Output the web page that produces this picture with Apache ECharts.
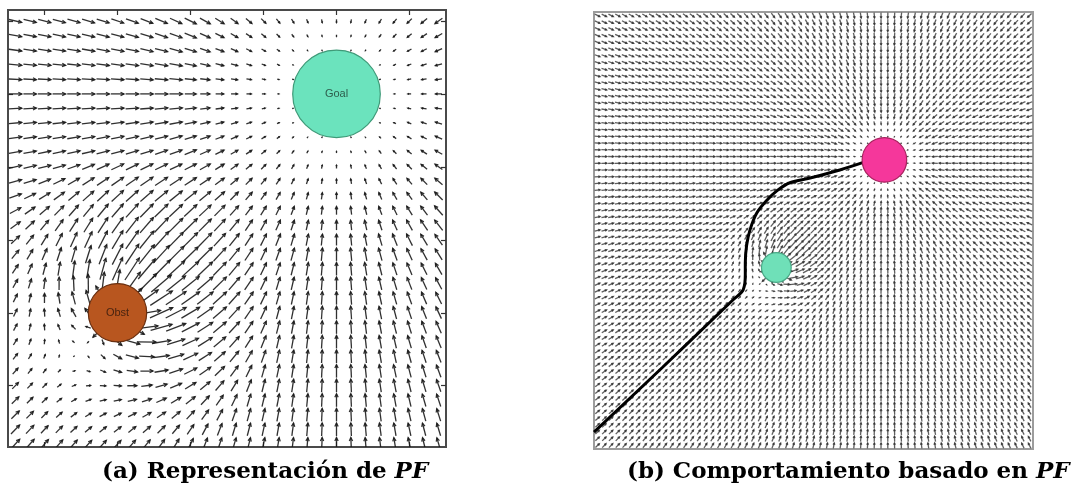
<!DOCTYPE html>
<html><head><meta charset="utf-8">
<script src="https://cdn.jsdelivr.net/npm/echarts@6/dist/echarts.min.js"></script>
<style>html,body{margin:0;padding:0;background:#fff}#c{width:1073px;height:495px}</style>
</head><body><div id="c"></div>
<script>
// ---------- Panel (a): potential field representation ----------
const A_X_RANGE = [-0.5, 5.5];
const A_Y_RANGE = [-0.84, 5.15];
const A_TICKS = [0, 1, 2, 3, 4, 5];
const A_GRID_X = [-0.4, 5.4, 0.2];      // quiver sample grid: start, end, step
const A_GRID_Y = [-0.8, 5.0, 0.2];
const A_GOAL = [4, 4];
const A_GOAL_RADIUS = 0.6;
const A_GOAL_SPREAD = 1.6;
const A_OBST = [1, 1];
const A_OBST_RADIUS = 0.4;
const A_OBST_SPREAD = 1.78;
const A_OBST_GAIN = 1.14;
const A_LABELS = ['Goal', 'Obst'];

// ---------- Panel (b): behaviour based on the potential field ----------
const B_RANGE = [0, 65];
const B_GRID = [0.5, 64.5, 1];
const B_GOAL = [43, 43];
const B_GOAL_RADIUS = 3.3;
const B_GOAL_SPREAD = 4;
const B_OBST = [27, 27];
const B_OBST_RADIUS = 2.2;
const B_OBST_SPREAD = 8;
const B_OBST_GAIN = 0.555;
const B_PATH_X = [0, 10.2, 17.9, 20.6, 22.1, 22.4, 22.4, 22.6, 23.1, 24.1, 25.6, 27.2, 29.0, 32.0, 36.4, 40.1];
const B_PATH_Y = [2.5, 12.2, 19.6, 22.2, 23.7, 25.9, 27.7, 30.3, 32.6, 35.1, 37.0, 38.5, 39.6, 40.3, 41.5, 42.7];

const CAPTION_A = '(a) Representación de ';
const CAPTION_B = '(b) Comportamiento basado en ';
const CAPTION_SYM = 'PF';

// attractive + repulsive field (Goodrich style)
function fieldAt(x, y, goal, gR, gS, obst, oR, oS, oK) {
  let vx = 0, vy = 0;
  const dx = goal[0] - x, dy = goal[1] - y, d = Math.hypot(dx, dy);
  if (d > gR) {
    const a = d < gR + gS ? (d - gR) : gS;
    vx += a * dx / d; vy += a * dy / d;
  }
  const ox = x - obst[0], oy = y - obst[1], e = Math.hypot(ox, oy);
  if (e > 1e-9 && e < oR + oS) {
    const r = e < oR ? oK * oS * 3 : oK * (oR + oS - e);
    vx += r * ox / e; vy += r * oy / e;
  }
  return [vx, vy];
}
function buildField(gx, gy, goal, gR, gS, obst, oR, oS, oK) {
  const out = [];
  const nx = Math.round((gx[1] - gx[0]) / gx[2]), ny = Math.round((gy[1] - gy[0]) / gy[2]);
  for (let j = 0; j <= ny; j++) {
    const y = +(gy[0] + j * gy[2]).toFixed(4);
    for (let i = 0; i <= nx; i++) {
      const x = +(gx[0] + i * gx[2]).toFixed(4);
      const v = fieldAt(x, y, goal, gR, gS, obst, oR, oS, oK);
      out.push([x, y, v[0], v[1]]);
    }
  }
  return out;
}
const fieldA = buildField(A_GRID_X, A_GRID_Y, A_GOAL, A_GOAL_RADIUS, A_GOAL_SPREAD, A_OBST, A_OBST_RADIUS, A_OBST_SPREAD, A_OBST_GAIN);
const fieldB = buildField(B_GRID, B_GRID, B_GOAL, B_GOAL_RADIUS, B_GOAL_SPREAD, B_OBST, B_OBST_RADIUS, B_OBST_SPREAD, B_OBST_GAIN);

function arrowRenderer(pxPerUnit, cap, headMax, color, width, opacity) {
  return function (params, api) {
    const p = api.coord([api.value(0), api.value(1)]);
    const vx = api.value(2), vy = api.value(3);
    const m = Math.hypot(vx, vy);
    if (m < 1e-6) return null;
    const L = Math.max(1, Math.min(m * pxPerUnit, cap));
    const ux = vx / m, uy = -vy / m;
    const x0 = p[0] - ux * L / 2, y0 = p[1] - uy * L / 2;
    const x1 = p[0] + ux * L / 2, y1 = p[1] + uy * L / 2;
    const h = Math.min(headMax, L * 0.38);
    const a = 0.45;
    const c = Math.cos(a), s = Math.sin(a);
    const bx = -ux, by = -uy;
    const b1 = [x1 + h * (bx * c - by * s), y1 + h * (bx * s + by * c)];
    const b2 = [x1 + h * (bx * c + by * s), y1 + h * (-bx * s + by * c)];
    const st = { stroke: color, lineWidth: width, fill: null, opacity: opacity };
    return {
      type: 'group',
      children: [
        { type: 'polyline', shape: { points: [[x0, y0], [x1, y1]] }, style: st },
        { type: 'polyline', shape: { points: [b1, [x1, y1], b2] }, style: st }
      ]
    };
  };
}
function circleRenderer(fills, strokes, textColors) {
  return function (params, api) {
    const i = params.dataIndex;
    const p = api.coord([api.value(0), api.value(1)]);
    const r = api.size([api.value(2), api.value(2)])[0];
    const children = [{
      type: 'circle', shape: { cx: p[0], cy: p[1], r: r },
      style: { fill: fills[i], stroke: strokes[i], lineWidth: 1.2 }
    }];
    if (textColors) {
      children.push({
        type: 'text', x: p[0], y: p[1],
        style: { text: A_LABELS[i], fill: textColors[i], font: '11px "Liberation Sans", Arial, sans-serif', align: 'center', verticalAlign: 'middle' }
      });
    }
    return { type: 'group', children: children };
  };
}

const tickA = { show: true, inside: true, length: 5, lineStyle: { color: '#333', width: 1.2 }, customValues: A_TICKS };
function axA(kind, pos) {
  return {
    type: 'value', gridIndex: 0, position: pos,
    min: kind === 'x' ? A_X_RANGE[0] : A_Y_RANGE[0],
    max: kind === 'x' ? A_X_RANGE[1] : A_Y_RANGE[1],
    axisLine: { show: false, onZero: false }, axisTick: tickA,
    axisLabel: { show: false, customValues: A_TICKS }, splitLine: { show: false }
  };
}
const axB = {
  type: 'value', gridIndex: 1, min: B_RANGE[0], max: B_RANGE[1],
  axisLine: { show: false, onZero: false }, axisTick: { show: false }, axisLabel: { show: false }, splitLine: { show: false }
};

const capRich = {
  r: { fontFamily: 'DejaVu Serif', fontWeight: 'bold', fontSize: 23, color: '#000' },
  i: { fontFamily: 'DejaVu Serif', fontWeight: 'bold', fontStyle: 'italic', fontSize: 23, color: '#000' }
};

const chart = echarts.init(document.getElementById('c'), null, { renderer: 'canvas' });
chart.setOption({
  animation: false,
  backgroundColor: '#fff',
  grid: [
    { left: 8, top: 10, width: 438, height: 437, show: true, borderColor: '#4a4a4a', borderWidth: 2, backgroundColor: '#fff' },
    { left: 594, top: 12, width: 439, height: 437, show: true, borderColor: '#9c9c9c', borderWidth: 2, backgroundColor: '#fff' }
  ],
  xAxis: [axA('x', 'bottom'), axA('x', 'top'), axB],
  yAxis: [axA('y', 'left'), axA('y', 'right'), axB],
  title: [
    { text: '{r|' + CAPTION_A + '}{i|' + CAPTION_SYM + '}', left: 97, top: 456, textStyle: { rich: capRich } },
    { text: '{r|' + CAPTION_B + '}{i|' + CAPTION_SYM + '}', left: 622, top: 456, textStyle: { rich: capRich } }
  ],
  series: [
    {
      type: 'custom', xAxisIndex: 0, yAxisIndex: 0, clip: true, silent: true, z: 2,
      renderItem: arrowRenderer(8.1, 28, 3.8, '#1a1a1a', 1.3, 0.9),
      data: fieldA
    },
    {
      type: 'custom', xAxisIndex: 0, yAxisIndex: 0, silent: true, z: 5,
      renderItem: circleRenderer(['#6be3bd', '#b8561f'], ['#3f9a78', '#6a2f10'], ['#2d5d4c', '#4a2410']),
      data: [[A_GOAL[0], A_GOAL[1], A_GOAL_RADIUS], [A_OBST[0], A_OBST[1], A_OBST_RADIUS]]
    },
    {
      type: 'custom', xAxisIndex: 2, yAxisIndex: 2, clip: true, silent: true, z: 2,
      renderItem: arrowRenderer(1.375, 11, 2.2, '#2a2a2a', 1.3, 0.75),
      data: fieldB
    },
    {
      type: 'line', xAxisIndex: 2, yAxisIndex: 2, z: 4, silent: true, showSymbol: false, smooth: 0.35,
      lineStyle: { color: '#000', width: 3 },
      data: B_PATH_X.map((x, i) => [x, B_PATH_Y[i]])
    },
    {
      type: 'custom', xAxisIndex: 2, yAxisIndex: 2, silent: true, z: 5,
      renderItem: circleRenderer(['#f5379b', '#6fe0b8'], ['#a8225f', '#4aa886'], null),
      data: [[B_GOAL[0], B_GOAL[1], B_GOAL_RADIUS], [B_OBST[0], B_OBST[1], B_OBST_RADIUS]]
    }
  ]
});
</script></body></html>
